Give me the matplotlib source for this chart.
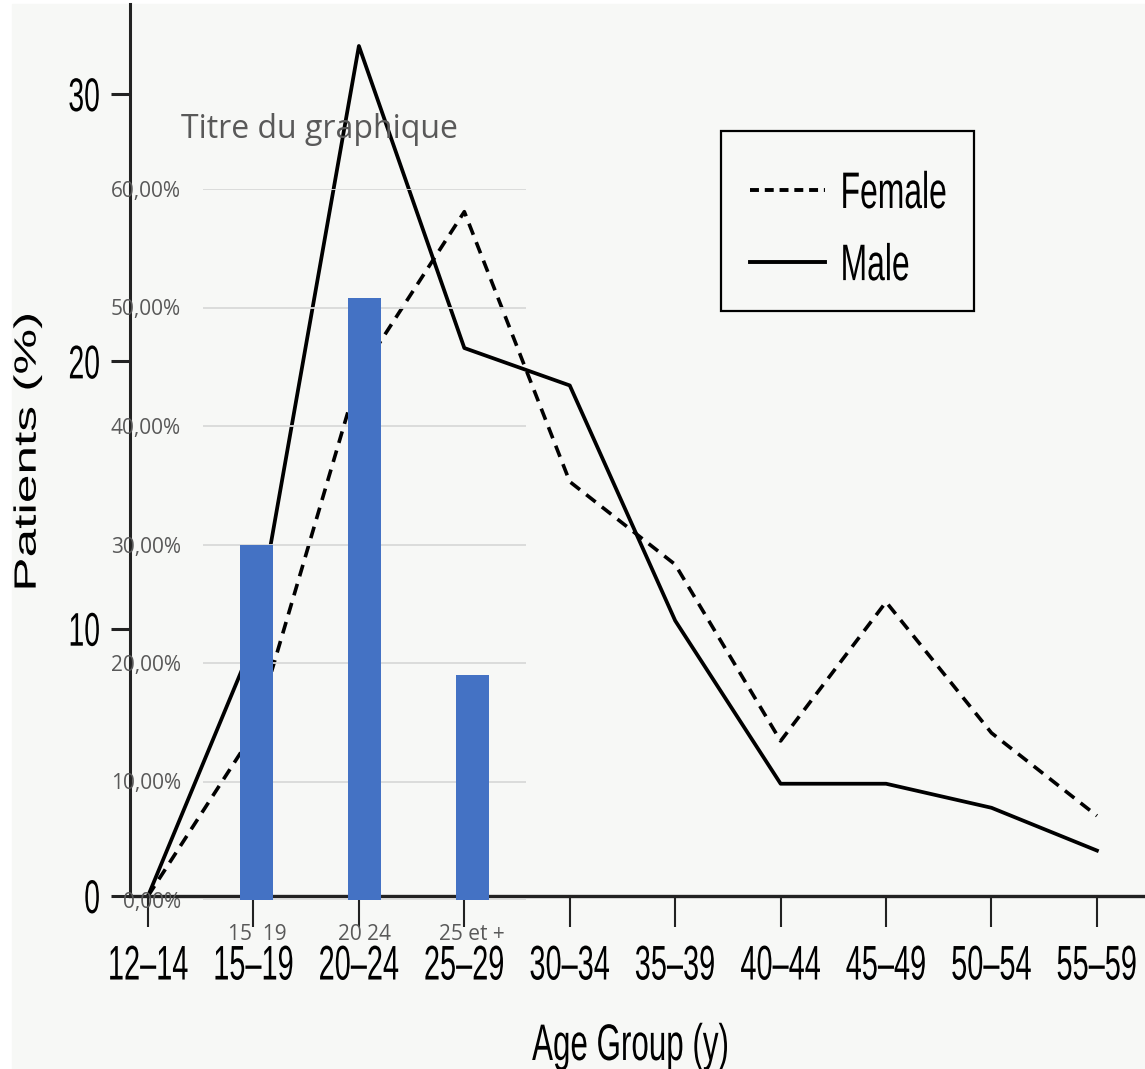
import matplotlib
matplotlib.use('Agg')
import matplotlib.pyplot as plt
from matplotlib.lines import Line2D
from matplotlib.patches import Rectangle
from matplotlib.patheffects import AbstractPathEffect
from matplotlib.transforms import Affine2D

# donnees du graphique scanne (hommes / femmes)
age_groups = ['12–14', '15–19', '20–24', '25–29', '30–34', '35–39',
              '40–44', '45–49', '50–54', '55–59']
female = [0, 6.1, 19.5, 25.6, 15.5, 12.4, 5.8, 11.0, 6.1, 3.0]
male = [0, 9.5, 31.8, 20.5, 19.1, 10.3, 4.2, 4.2, 3.3, 1.7]
y_ticks = [0, 10, 20, 30]

# donnees du graphique Excel colle par dessus
bar_cats = ['15  19', '20 24', '25 et +']
bar_vals = [0.300, 0.508, 0.190]
pct_ticks = [0, 0.1, 0.2, 0.3, 0.4, 0.5, 0.6]

W, H = 1145, 1069
BG = '#f7f8f6'


class Squeeze(AbstractPathEffect):
    # texte deforme (etroit / etire) comme dans l'image d'origine
    def __init__(self, sx=0.6, anchor='center', sy=1.0):
        super().__init__()
        self.sx = sx
        self.sy = sy
        self.anchor = anchor

    def draw_path(self, renderer, gc, tpath, affine, rgbFace=None):
        bb = tpath.get_extents(affine)
        if self.anchor == 'left':
            x0 = bb.x0
        elif self.anchor == 'right':
            x0 = bb.x1
        else:
            x0 = (bb.x0 + bb.x1) / 2
        y0 = bb.y1  # le haut du texte reste en place
        sq = Affine2D().translate(-x0, -y0).scale(self.sx, self.sy).translate(x0, y0)
        renderer.draw_path(gc, tpath, affine + sq, rgbFace)


plt.rcParams['font.family'] = ['Liberation Sans', 'DejaVu Sans']

fig = plt.figure(figsize=(W / 100, H / 100), dpi=100, facecolor='white')
fig.add_artist(Rectangle((12 / W, 0), 1, (H - 4) / H, transform=fig.transFigure,
                         color=BG, zorder=-10))

# ---- graphique principal
ax = fig.add_axes([130 / W, 1 - 896 / H, 1 - 130 / W, (896 - 4) / H])
ax.set_facecolor('none')
x = list(range(len(age_groups)))
ax.plot(x, female, color='black', lw=2.6, ls=(0, (3.3, 2.2)), clip_on=False)
ax.plot(x, male, color='black', lw=2.7, clip_on=False)
ax.set_xlim(-0.171, 9.456)
ax.set_ylim(0, 33.37)
for s in ['top', 'right']:
    ax.spines[s].set_visible(False)
ax.spines['left'].set_linewidth(2.2)
ax.spines['bottom'].set_linewidth(2.4)
ax.spines['left'].set_color('#222222')
ax.spines['bottom'].set_color('#222222')

ax.set_xticks(x, age_groups, fontsize=24.5)
ax.set_yticks(y_ticks, [str(v) for v in y_ticks], fontsize=34)
ax.tick_params(axis='x', length=22, width=1.5, pad=13.5, color='#222222')
ax.tick_params(axis='y', length=14, width=2.2, pad=7, color='#222222')
plt.setp(ax.get_xticklabels(), path_effects=[Squeeze(0.85, 'center', 1.43)])
plt.setp(ax.get_yticklabels(), path_effects=[Squeeze(0.6, 'right')])

fig.text(631 / W, 1 - 1060 / H, 'Age Group (y)', ha='center', va='baseline',
         fontsize=37, path_effects=[Squeeze(0.61)])
fig.text(27.5 / W, 1 - 452 / H, 'Patients (%)', rotation=90, ha='center',
         va='center', fontsize=37, path_effects=[Squeeze(0.6)])

# legende
handles = [Line2D([], [], color='black', lw=2.8, ls=(0, (2.3, 1.5))),
           Line2D([], [], color='black', lw=2.8)]
leg = ax.legend(handles, ['Female', 'Male'], loc='upper left',
                bbox_to_anchor=(750 / W, 1 - 170 / H), bbox_transform=fig.transFigure,
                frameon=False, borderpad=0, borderaxespad=0, fontsize=37,
                handlelength=75 / 51.4, handletextpad=14 / 51.4, labelspacing=0.45)
for t in leg.get_texts():
    t.set_path_effects([Squeeze(0.62, 'left')])
fig.add_artist(Rectangle((721 / W, 1 - 311 / H), 253 / W, 180 / H,
                         transform=fig.transFigure, fill=False, ec='black', lw=1.6))

# ---- graphique Excel
ax2 = fig.add_axes([203 / W, 1 - 900 / H, 323 / W, 711 / H])
ax2.set_facecolor('none')
ax2.bar(range(len(bar_cats)), bar_vals, width=0.306, color='#4472c4', zorder=3)
ax2.set_xlim(-0.5, 2.5)
ax2.set_ylim(0, 0.6)
ax2.set_yticks(pct_ticks, [('%.2f%%' % (v * 100)).replace('.', ',') for v in pct_ticks])
ax2.set_xticks(range(len(bar_cats)), bar_cats)
ax2.yaxis.grid(True, color='#d9d9d9', lw=1.3, zorder=0)
for s in ax2.spines.values():
    s.set_visible(False)
ax2.tick_params(axis='y', length=0, pad=16, labelsize=15, labelcolor='#595959')
ax2.tick_params(axis='x', length=0, pad=17, labelsize=15, labelcolor='#595959')
for t in ax2.get_xticklabels() + ax2.get_yticklabels():
    t.set_family(['Open Sans', 'DejaVu Sans'])

fig.text(319 / W, 1 - 138 / H, 'Titre du graphique', ha='center', va='baseline',
         fontsize=23, color='#595959', family=['Open Sans', 'DejaVu Sans'])

plt.savefig('out.png', dpi=100, facecolor=fig.get_facecolor())
